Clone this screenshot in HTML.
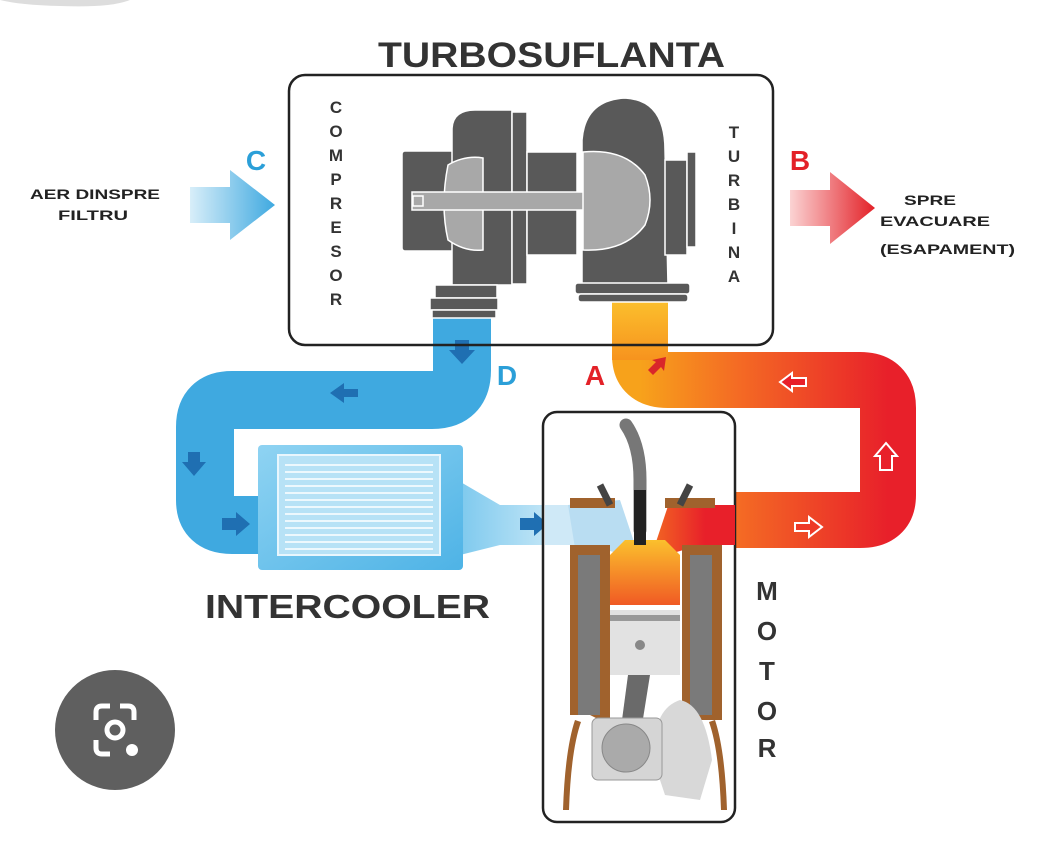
<!DOCTYPE html>
<html><head><meta charset="utf-8"><style>
html,body{margin:0;padding:0;background:#fff;}
svg{display:block;font-family:"Liberation Sans",Arial,sans-serif;}
</style></head><body>
<svg width="1060" height="850" viewBox="0 0 1060 850" xmlns="http://www.w3.org/2000/svg">
<defs>
<linearGradient id="red" x1="0" y1="0" x2="1" y2="0">
<stop offset="0" stop-color="#f7a21b"/><stop offset="0.4" stop-color="#f46a24"/><stop offset="1" stop-color="#e8202a"/></linearGradient>
<linearGradient id="redv" x1="0" y1="0" x2="0" y2="1">
<stop offset="0" stop-color="#fbc02d"/><stop offset="1" stop-color="#f7931e"/></linearGradient>
<linearGradient id="blueFade" x1="0" y1="0" x2="1" y2="0">
<stop offset="0" stop-color="#6fc3ec"/><stop offset="1" stop-color="#d6eef9"/></linearGradient>
<linearGradient id="ic" x1="0" y1="0" x2="1" y2="1">
<stop offset="0" stop-color="#8fd3f2"/><stop offset="1" stop-color="#4eb3e6"/></linearGradient>
<linearGradient id="arrC" x1="0" y1="0" x2="1" y2="0">
<stop offset="0" stop-color="#d8eef9"/><stop offset="1" stop-color="#3fa9e0"/></linearGradient>
<linearGradient id="arrB" x1="0" y1="0" x2="1" y2="0">
<stop offset="0" stop-color="#fbd3d3"/><stop offset="1" stop-color="#e32128"/></linearGradient>
<linearGradient id="comb" x1="0" y1="0" x2="0" y2="1">
<stop offset="0" stop-color="#fbc02d"/><stop offset="1" stop-color="#f05a24"/></linearGradient>
<linearGradient id="exh" x1="0" y1="0" x2="1" y2="0">
<stop offset="0" stop-color="#f26a22"/><stop offset="1" stop-color="#e8202a"/></linearGradient>
</defs>

<path d="M0 0 H130 Q110 8 60 6 Q20 5 0 0Z" fill="#ddd"/>

<!-- blue pipe -->
<path d="M462 300 L462 370 Q462 400 432 400 L232 400 Q205 400 205 427 L205 500 Q205 525 232 525 L270 525" fill="none" stroke="#3fa9e0" stroke-width="58" stroke-linejoin="round"/>
<!-- red pipe -->
<path d="M640 300 L640 355 Q640 380 668 380 L860 380 Q888 380 888 408 L888 495 Q888 520 860 520 L700 520" fill="none" stroke="url(#red)" stroke-width="56" stroke-linejoin="round"/>
<rect x="612" y="300" width="56" height="60" fill="url(#redv)"/>

<path d="M440 470 L500 505 L575 505 L575 545 L500 545 L440 560Z" fill="url(#blueFade)"/>
<rect x="258" y="445" width="205" height="125" rx="4" fill="url(#ic)"/>
<rect x="278" y="455" width="162" height="100" fill="#b7e2f6" stroke="#e8f6fd" stroke-width="2"/>
<g stroke="#fff" stroke-width="1.5">
<line x1="285" y1="465" x2="433" y2="465"/><line x1="285" y1="472" x2="433" y2="472"/><line x1="285" y1="479" x2="433" y2="479"/><line x1="285" y1="486" x2="433" y2="486"/><line x1="285" y1="493" x2="433" y2="493"/><line x1="285" y1="500" x2="433" y2="500"/><line x1="285" y1="507" x2="433" y2="507"/><line x1="285" y1="514" x2="433" y2="514"/><line x1="285" y1="521" x2="433" y2="521"/><line x1="285" y1="528" x2="433" y2="528"/><line x1="285" y1="535" x2="433" y2="535"/><line x1="285" y1="542" x2="433" y2="542"/><line x1="285" y1="549" x2="433" y2="549"/>
</g>

<g fill="#1f6fb2">
<path d="M455 340 h14 v10 h6 l-13 14 l-13 -14 h6z"/>
<path d="M330 393 l14 -10 v6 h14 v8 h-14 v6z"/>
<path d="M188 452 h12 v10 h6 l-12 14 l-12 -14 h6z"/>
<path d="M222 518 h14 v-6 l14 12 l-14 12 v-6 h-14z"/>
<path d="M520 518 h14 v-6 l14 12 l-14 12 v-6 h-14z"/>
</g>
<g fill="none" stroke="#fff" stroke-width="2">
<path d="M780 382 l12 -9 v5 h14 v8 h-14 v5z" fill="#e8202a"/>
<path d="M880 470 v-14 h-5 l11 -13 l11 13 h-5 v14z" fill="#e8202a"/>
<path d="M795 523 h14 v-6 l13 10 l-13 10 v-6 h-14z" fill="#ee3a28"/>
</g>
<path d="M648 370 l8 -8 l-4 -2 l14 -3 l-2 14 l-3 -4 l-8 8z" fill="#d9262a"/>

<text x="378" y="67" font-size="35" font-weight="bold" fill="#333" textLength="347" lengthAdjust="spacingAndGlyphs">TURBOSUFLANTA</text>
<rect x="289" y="75" width="484" height="270" rx="16" fill="none" stroke="#222" stroke-width="2.5"/>
<g font-size="17" font-weight="bold" fill="#333" text-anchor="middle">
<text x="336" y="113">C</text><text x="336" y="137">O</text><text x="336" y="161">M</text><text x="336" y="185">P</text><text x="336" y="209">R</text><text x="336" y="233">E</text><text x="336" y="257">S</text><text x="336" y="281">O</text><text x="336" y="305">R</text>
<text x="734" y="138">T</text><text x="734" y="162">U</text><text x="734" y="186">R</text><text x="734" y="210">B</text><text x="734" y="234">I</text><text x="734" y="258">N</text><text x="734" y="282">A</text>
</g>

<g fill="#595959" stroke="#fff" stroke-width="1.5">
<rect x="402" y="151" width="56" height="100" rx="3"/>
<path d="M452 285 L452 130 Q452 110 475 110 L512 110 L512 285Z"/>
<rect x="512" y="112" width="15" height="172"/>
<rect x="527" y="152" width="50" height="103"/>
<rect x="435" y="285" width="62" height="13"/>
<rect x="430" y="298" width="68" height="12"/>
<rect x="432" y="310" width="64" height="8"/>
<path d="M582 285 L582 140 Q585 100 625 98 Q665 100 665 150 L668 285Z"/>
<rect x="665" y="160" width="22" height="95"/>
<rect x="687" y="152" width="9" height="95"/>
<rect x="575" y="283" width="115" height="11" rx="3"/>
<rect x="578" y="294" width="110" height="8" rx="3"/>
</g>
<g fill="#a8a8a8" stroke="#fff" stroke-width="1.5">
<path d="M448 165 Q465 155 483 158 L483 250 Q465 252 448 240 Q440 205 448 165Z"/>
<rect x="412" y="192" width="190" height="18"/>
<rect x="413" y="196" width="10" height="10"/>
<path d="M583 152 Q625 148 645 175 Q655 200 645 225 Q625 252 583 250Z"/>
</g>

<text x="256" y="170" text-anchor="middle" font-size="28" font-weight="bold" fill="#2b9fd8">C</text>
<path d="M190 187 h40 v-17 l45 35 l-45 35 v-17 h-40z" fill="url(#arrC)"/>
<text x="30" y="199" font-size="14" font-weight="bold" fill="#222" textLength="130" lengthAdjust="spacingAndGlyphs">AER DINSPRE</text>
<text x="58" y="220" font-size="14" font-weight="bold" fill="#222" textLength="70" lengthAdjust="spacingAndGlyphs">FILTRU</text>
<text x="800" y="170" text-anchor="middle" font-size="28" font-weight="bold" fill="#e32128">B</text>
<path d="M790 190 h40 v-18 l45 36 l-45 36 v-18 h-40z" fill="url(#arrB)"/>
<text x="904" y="205" font-size="14" font-weight="bold" fill="#222" textLength="52" lengthAdjust="spacingAndGlyphs">SPRE</text>
<text x="880" y="226" font-size="14" font-weight="bold" fill="#222" textLength="110" lengthAdjust="spacingAndGlyphs">EVACUARE</text>
<text x="880" y="254" font-size="14" font-weight="bold" fill="#222" textLength="135" lengthAdjust="spacingAndGlyphs">(ESAPAMENT)</text>

<text x="507" y="385" text-anchor="middle" font-size="28" font-weight="bold" fill="#2b9fd8">D</text>
<text x="595" y="385" text-anchor="middle" font-size="28" font-weight="bold" fill="#e32128">A</text>

<rect x="543" y="412" width="192" height="410" rx="14" fill="#fff" stroke="#222" stroke-width="2.5"/>
<rect x="545" y="505" width="40" height="40" fill="#cfe9f7"/>
<rect x="700" y="505" width="35" height="40" fill="#e8202a"/>
<path d="M568 505 L620 500 L640 560 L600 548 L575 548Z" fill="#b9ddf2"/>
<path d="M670 500 L705 505 L705 545 L690 548 L650 560Z" fill="url(#exh)"/>
<g fill="#a0622d">
<path d="M570 498 h45 v10 h-45z"/><path d="M665 498 h50 v10 h-50z"/>
<path d="M570 545 h40 v180 l-20 -10 h-20z"/><path d="M682 545 h40 v175 h-22 l-18 10z"/>
<path d="M575 720 q-10 30 -12 90 h6 q2 -60 12 -88z"/><path d="M715 720 q10 30 12 90 h-6 q-2 -60 -12 -88z"/>
</g>
<rect x="578" y="555" width="22" height="160" fill="#7a7a7a"/>
<rect x="690" y="555" width="22" height="160" fill="#7a7a7a"/>
<path d="M610 555 L625 540 L665 540 L680 555 L680 605 L610 605Z" fill="url(#comb)"/>
<rect x="610" y="610" width="70" height="65" fill="#e2e2e2"/>
<rect x="610" y="615" width="70" height="6" fill="#999"/>
<circle cx="640" cy="645" r="5" fill="#888"/>
<path d="M628 675 h22 l-12 75 h-20z" fill="#6a6a6a"/>
<path d="M655 765 Q650 710 680 700 Q705 705 712 760 L700 800 L665 795Z" fill="#d8d8d8"/>
<rect x="592" y="718" width="70" height="62" rx="6" fill="#d5d5d5" stroke="#999"/>
<circle cx="626" cy="748" r="24" fill="#aaa" stroke="#888"/>
<path d="M626 425 Q640 445 640 480 L640 530" stroke="#777" stroke-width="13" fill="none" stroke-linecap="round"/>
<rect x="634" y="490" width="12" height="55" fill="#222"/>
<path d="M600 485 l10 20" stroke="#444" stroke-width="7"/><path d="M690 485 l-10 20" stroke="#444" stroke-width="7"/>

<text x="205" y="618" font-size="33" font-weight="bold" fill="#333" textLength="285" lengthAdjust="spacingAndGlyphs">INTERCOOLER</text>
<g font-size="26" font-weight="bold" fill="#333" text-anchor="middle">
<text x="767" y="600">M</text><text x="767" y="640">O</text><text x="767" y="680">T</text><text x="767" y="720">O</text><text x="767" y="757">R</text>
</g>

<circle cx="115" cy="730" r="60" fill="#5f5f5f"/>
<g fill="none" stroke="#fff" stroke-width="5">
<path d="M96 720 v-8 q0 -6 6 -6 h8 M120 706 h8 q6 0 6 6 v8 M96 740 v8 q0 6 6 6 h8"/>
<circle cx="115" cy="730" r="8"/>
</g>
<circle cx="132" cy="750" r="6" fill="#fff"/>
</svg>
</body></html>
